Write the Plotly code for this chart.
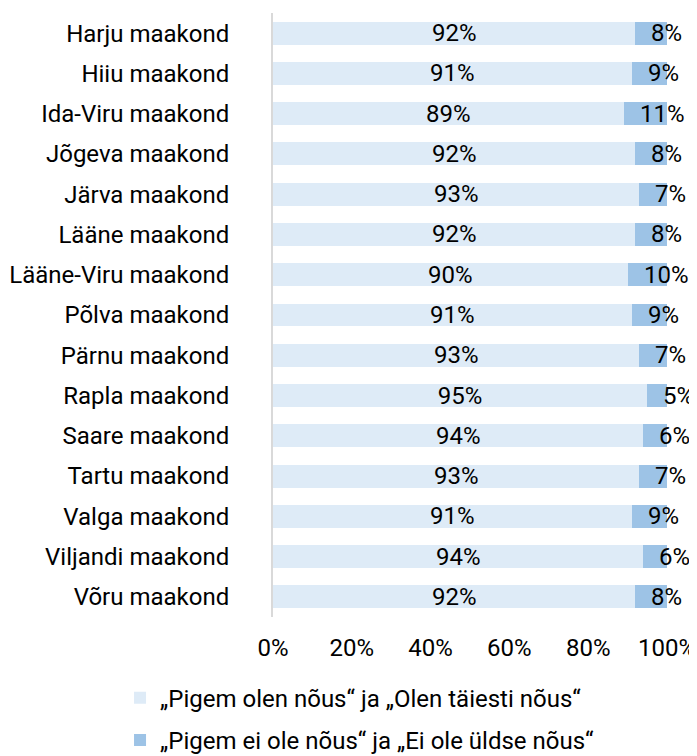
import plotly.graph_objects as go

categories = ["Harju maakond", "Hiiu maakond", "Ida-Viru maakond", "Jõgeva maakond",
              "Järva maakond", "Lääne maakond", "Lääne-Viru maakond", "Põlva maakond",
              "Pärnu maakond", "Rapla maakond", "Saare maakond", "Tartu maakond",
              "Valga maakond", "Viljandi maakond", "Võru maakond"]
agree = [92, 91, 89, 92, 93, 92, 90, 91, 93, 95, 94, 93, 91, 94, 92]
disagree = [8, 9, 11, 8, 7, 8, 10, 9, 7, 5, 6, 7, 9, 6, 8]
series_names = ["„Pigem olen nõus“ ja „Olen täiesti nõus“",
                "„Pigem ei ole nõus“ ja „Ei ole üldse nõus“"]
tick_vals = [0, 20, 40, 60, 80, 100]
tick_text = ["0%", "20%", "40%", "60%", "80%", "100%"]

FONT = "Roboto, 'Noto Sans', sans-serif"
FS = 24

fig = go.Figure()
fig.add_trace(go.Bar(
    y=categories, x=agree, orientation="h", name=series_names[0],
    marker=dict(color="#DEEBF7", line=dict(width=0)),
    text=[f"{v}%" for v in agree], textposition="inside", insidetextanchor="middle",
    constraintext="none", textfont=dict(family=FONT, size=FS, color="#000000"),
    legendgroup="a", hoverinfo="x+y",
))
fig.add_trace(go.Bar(
    y=categories, x=disagree, orientation="h", name=series_names[1],
    marker=dict(color="#9DC3E6", line=dict(width=0)),
    textposition="none", legendgroup="b", hoverinfo="x+y",
))

for c, a, d in zip(categories, agree, disagree):
    fig.add_annotation(x=a, y=c, xref="x", yref="y", text=f"{d}%", showarrow=False,
                       xanchor="left", xshift=14,
                       font=dict(family=FONT, size=FS, color="#000000"))

fig.update_layout(
    barmode="stack", bargap=0.43,
    width=689, height=748,
    margin=dict(l=265, r=30, t=5, b=139, autoexpand=False),
    paper_bgcolor="white", plot_bgcolor="white",
    font=dict(family=FONT, size=FS, color="#000000"),
    legend=dict(orientation="v", xref="container", yref="container",
                x=0.1626, xanchor="left", y=0.1075, yanchor="top",
                font=dict(family=FONT, size=FS, color="#000000"),
                traceorder="grouped", tracegroupgap=8, itemwidth=30),
    xaxis=dict(range=[0, 100], tickvals=tick_vals, ticktext=tick_text, automargin=False,
               showgrid=False, zeroline=False, showline=False, ticks="",
               ticklabelstandoff=14, tickfont=dict(family=FONT, size=FS, color="#000000")),
    yaxis=dict(autorange="reversed", showgrid=False, zeroline=False, automargin=False,
               showline=True, linecolor="#D9D9D9", linewidth=2, ticks="",
               ticklabelstandoff=37, tickfont=dict(family=FONT, size=FS, color="#000000")),
)

fig.write_html("out.html")
